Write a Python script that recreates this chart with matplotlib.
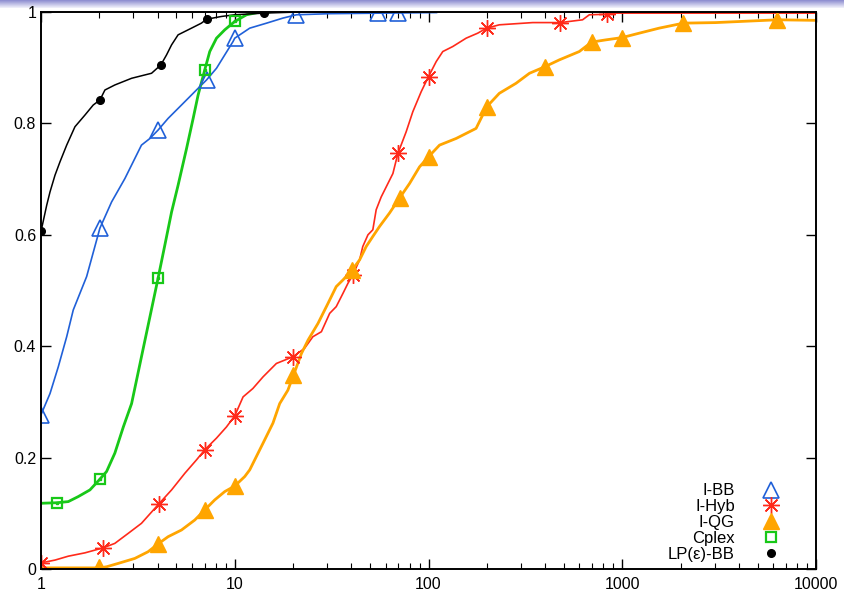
import numpy as np
import matplotlib
matplotlib.use("Agg")
import matplotlib.pyplot as plt
from matplotlib.lines import Line2D
from matplotlib.colors import LinearSegmentedColormap

plt.rcParams['font.family'] = ['Liberation Sans', 'DejaVu Sans']

# performance profile curves (ratio tau, fraction of instances)
ibb_x = [1.0, 1.113, 1.228, 1.357, 1.467, 1.72, 2.014, 2.314, 2.71, 3.05, 3.30, 3.65, 4.02, 4.53,
         5.31, 6.22, 7.15, 8.05, 8.88, 9.80, 10.0, 11.95, 14.6, 17.7, 20.8, 30.9, 110]
ibb_y = [0.277, 0.315, 0.363, 0.417, 0.465, 0.525, 0.612, 0.659, 0.701, 0.737, 0.761, 0.773, 0.788, 0.809,
         0.833, 0.857, 0.878, 0.899, 0.923, 0.947, 0.953, 0.971, 0.980, 0.989, 0.995, 0.997, 0.999]
ibb_mx = [1.0, 2.014, 4.02, 7.15, 10.0, 20.8, 54.6, 70.0]
ibb_my = [0.277, 0.612, 0.788, 0.878, 0.953, 0.995, 0.998, 0.998]

hyb_x = [1.0, 1.181, 1.383, 1.686, 2.095, 2.405, 2.82, 3.30, 4.06, 4.72, 5.53, 6.35, 7.0, 8.05, 9.06, 10.0,
         11.04, 12.4, 14.0, 16.4, 19.97, 22.9, 25.3, 28.0, 30.9, 33.4, 36.2, 38.4, 40.7, 44.1, 45.8, 48.7,
         51.6, 53.7, 57.0, 60.5, 65.5, 69.5, 76.7, 83.0, 91.7, 100, 109.6, 118.5, 133.4, 156.4, 179.5,
         199.7, 232, 345, 479, 624, 676, 830, 920, 10000]
hyb_y = [0.011, 0.016, 0.023, 0.029, 0.038, 0.046, 0.064, 0.082, 0.117, 0.142, 0.172, 0.196, 0.214, 0.235,
         0.255, 0.275, 0.309, 0.324, 0.345, 0.369, 0.381, 0.396, 0.417, 0.426, 0.459, 0.471, 0.495, 0.513,
         0.528, 0.555, 0.579, 0.600, 0.609, 0.645, 0.668, 0.686, 0.710, 0.746, 0.785, 0.821, 0.857, 0.884,
         0.911, 0.929, 0.938, 0.953, 0.962, 0.971, 0.977, 0.981, 0.981, 0.986, 0.995, 0.996, 0.998, 0.998]
hyb_mx = [1.0, 2.095, 4.06, 7.0, 10.0, 19.97, 40.7, 69.5, 100, 199.7, 479, 830]
hyb_my = [0.011, 0.038, 0.117, 0.214, 0.275, 0.381, 0.528, 0.746, 0.884, 0.971, 0.981, 0.996]

qg_x = [1.0, 2.0, 2.18, 2.50, 3.05, 3.57, 4.02, 4.53, 5.31, 6.22, 7.0, 7.88, 8.88, 10.0, 11.26, 11.95,
        12.68, 14.0, 15.75, 17.06, 18.8, 20.1, 22.1, 23.9, 26.9, 30.3, 33.4, 36.2, 40.4, 44.1, 47.7, 51.6,
        55.9, 62.9, 70.9, 79.8, 89.9, 100, 114, 139, 176, 200, 232, 283, 332, 400, 473, 600, 695, 824,
        996, 1224, 1550, 2070, 3040, 6310, 10000]
qg_y = [0.002, 0.002, 0.004, 0.010, 0.019, 0.031, 0.045, 0.058, 0.070, 0.088, 0.106, 0.124, 0.139, 0.149,
        0.166, 0.178, 0.196, 0.226, 0.262, 0.297, 0.321, 0.348, 0.387, 0.411, 0.441, 0.477, 0.507, 0.519,
        0.537, 0.555, 0.579, 0.597, 0.615, 0.639, 0.666, 0.692, 0.722, 0.740, 0.761, 0.773, 0.791, 0.830,
        0.854, 0.872, 0.890, 0.902, 0.914, 0.929, 0.946, 0.950, 0.954, 0.962, 0.971, 0.980, 0.981, 0.986,
        0.985]
qg_mx = [2.0, 4.02, 7.0, 10.0, 20.1, 40.4, 70.9, 100, 200, 400, 695, 996, 2070, 6310]
qg_my = [0.004, 0.045, 0.106, 0.149, 0.348, 0.537, 0.666, 0.740, 0.830, 0.902, 0.946, 0.954, 0.980, 0.986]

cplex_x = [1.0, 1.21, 1.383, 1.557, 1.789, 2.01, 2.18, 2.405, 2.66, 2.935, 3.30, 3.65, 4.02, 4.36, 4.72,
           5.10, 5.64, 6.10, 6.47, 7.0, 7.43, 8.05, 8.88, 10.0, 11.5, 13.1, 15.0]
cplex_y = [0.118, 0.119, 0.121, 0.130, 0.142, 0.161, 0.175, 0.208, 0.255, 0.297, 0.381, 0.453, 0.522,
           0.582, 0.641, 0.689, 0.755, 0.809, 0.851, 0.896, 0.929, 0.953, 0.968, 0.983, 0.995, 0.999, 1.0]
cplex_mx = [1.21, 2.01, 4.02, 7.0, 10.0]
cplex_my = [0.119, 0.161, 0.522, 0.896, 0.983]

lp_x = [1.0, 1.07, 1.113, 1.181, 1.253, 1.357, 1.497, 1.686, 1.86, 2.014, 2.138, 2.405, 2.935, 3.436,
        3.72, 4.155, 4.446, 4.72, 5.10, 5.98, 6.73, 7.15, 8.54, 10.0, 14.1, 21.6]
lp_y = [0.606, 0.653, 0.677, 0.707, 0.731, 0.761, 0.794, 0.815, 0.833, 0.842, 0.860, 0.869, 0.881, 0.887,
        0.890, 0.905, 0.923, 0.941, 0.959, 0.971, 0.980, 0.987, 0.992, 0.995, 0.998, 1.0]
lp_mx = [1.0, 2.014, 4.155, 7.15, 14.1]
lp_my = [0.606, 0.842, 0.905, 0.987, 0.998]

labels = ['I-BB', 'I-Hyb', 'I-QG', 'Cplex', 'LP(ε)-BB']

c_blue = '#2060d8'
c_red = '#ff2a1a'
c_orange = '#ffa500'
c_green = '#18c818'
c_black = '#000000'

fig = plt.figure(figsize=(8.44, 5.95), dpi=100)

# beamer-like header strip
hdr = fig.add_axes([0, 1 - 8 / 595, 1, 8 / 595])
grad = np.linspace(0, 1, 20).reshape(-1, 1)
cm = LinearSegmentedColormap.from_list('hdr', ['#8c8cd0', '#f2f2fb'])
hdr.imshow(grad, aspect='auto', cmap=cm, extent=[0, 1, 0, 1])
hdr.axis('off')

ax = fig.add_axes([41 / 844, 26 / 595, 775 / 844, 557 / 595])

ax.plot(ibb_x, ibb_y, color=c_blue, lw=1.2)
ax.plot(hyb_x, hyb_y, color=c_red, lw=1.2)
ax.plot(qg_x, qg_y, color=c_orange, lw=2.0)
ax.plot(cplex_x, cplex_y, color=c_green, lw=2.0)
ax.plot(lp_x, lp_y, color=c_black, lw=1.1)

ax.plot(ibb_mx, ibb_my, ls='none', marker='^', ms=12, mfc='none', mec=c_blue, mew=1.2)
ax.plot(hyb_mx, hyb_my, ls='none', marker=(8, 2, 0), ms=12, mec=c_red, mew=1.0)
ax.plot(qg_mx, qg_my, ls='none', marker='^', ms=11, mfc=c_orange, mec=c_orange)
ax.plot(cplex_mx, cplex_my, ls='none', marker='s', ms=7, mfc='none', mec=c_green, mew=1.6)
ax.plot(cplex_mx, cplex_my, ls='none', marker='s', ms=1.5, mfc=c_green, mec=c_green)
ax.plot(lp_mx, lp_my, ls='none', marker='o', ms=5.5, mfc=c_black, mec=c_black)

ax.set_xscale('log')
ax.set_xlim(1, 10000)
ax.set_ylim(0, 1)
ax.set_yticks([0, 0.2, 0.4, 0.6, 0.8, 1.0])
ax.set_yticklabels(['0', '0.2', '0.4', '0.6', '0.8', '1'])
ax.set_xticks([1, 10, 100, 1000, 10000])
ax.set_xticklabels(['1', '10', '100', '1000', '10000'])
ax.tick_params(which='both', direction='in', top=True, right=True, labelsize=11.5)
ax.tick_params(which='major', length=7, width=1.0)
ax.tick_params(which='minor', length=4, width=0.8)
ax.tick_params(axis='x', pad=6)
for s in ax.spines.values():
    s.set_linewidth(1.4)

h = [Line2D([], [], ls='none', marker='^', ms=12, mfc='none', mec=c_blue, mew=1.2),
     Line2D([], [], ls='none', marker=(8, 2, 0), ms=12, mec=c_red, mew=1.0),
     Line2D([], [], ls='none', marker='^', ms=11, mfc=c_orange, mec=c_orange),
     Line2D([], [], ls='none', marker='s', ms=7, mfc='none', mec=c_green, mew=1.6),
     Line2D([], [], ls='none', marker='o', ms=5.5, mfc=c_black, mec=c_black)]
leg = ax.legend(h, labels, loc='lower right', frameon=False, markerfirst=False,
                fontsize=12, handlelength=1.5, handletextpad=1.4, labelspacing=0.05,
                bbox_to_anchor=(0.977, -0.014))
for t in leg.get_texts():
    t.set_ha('right')

fig.savefig('out.png', dpi=100)
